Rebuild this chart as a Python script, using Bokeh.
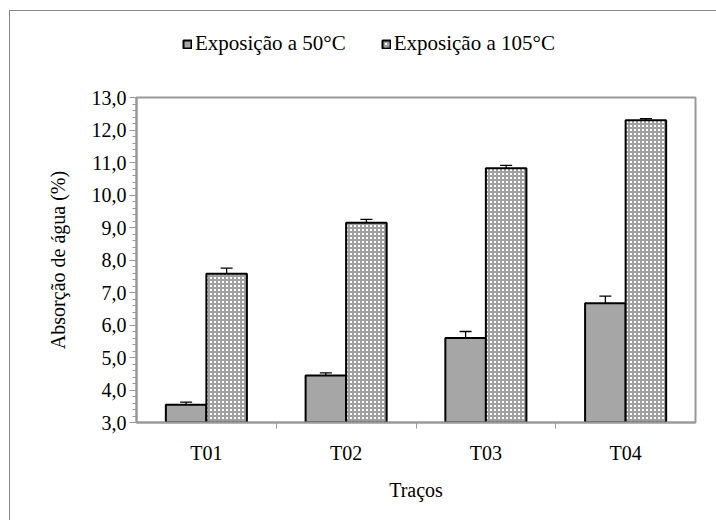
from bokeh.plotting import figure
from bokeh.layouts import column
from bokeh.models import (ColumnDataSource, Whisker, FixedTicker, SingleIntervalTicker,
                          Legend, LegendItem, Range1d)
from bokeh.embed import file_html
from bokeh.resources import INLINE

categories = ["T01", "T02", "T03", "T04"]
series_names = ["Exposição a 50°C", "Exposição a 105°C"]
vals_50 = [3.55, 4.45, 5.60, 6.67]
err_50 = [0.08, 0.08, 0.20, 0.22]
vals_105 = [7.58, 9.15, 10.82, 12.30]
err_105 = [0.17, 0.10, 0.09, 0.05]
y_ticks = [3, 4, 5, 6, 7, 8, 9, 10, 11, 12, 13]

FONT = "'Liberation Serif'"
FS = "20px"
BW = 0.29
centers = [i + 0.5 for i in range(len(categories))]

STYLE_50 = dict(fill_color="#a6a6a6", line_color="black", line_width=2)
STYLE_105 = dict(fill_color="white", line_color="black", line_width=2,
                 hatch_pattern="cross", hatch_color="#a0a0a0", hatch_scale=4, hatch_weight=2)

# ---- legend strip (separate figure above the chart) ----
lf = figure(width=706, height=70, output_backend="svg", toolbar_location=None,
            x_range=Range1d(0, 1), y_range=Range1d(0, 1),
            min_border_left=0, min_border_right=0, min_border_top=0, min_border_bottom=0)
lf.axis.visible = False
lf.grid.visible = False
lf.outline_line_color = None
# proxy renderers with no drawable value: only their legend swatches show
nan = float("nan")
lr1 = lf.vbar(x=[nan], top=[nan], bottom=[nan], width=0.1, **STYLE_50)
lr2 = lf.vbar(x=[nan], top=[nan], bottom=[nan], width=0.1, **STYLE_105)
legend = Legend(items=[LegendItem(label=series_names[0], renderers=[lr1]),
                       LegendItem(label=series_names[1], renderers=[lr2])],
                orientation="horizontal", location=(46, 25))
legend.label_text_font = FONT
legend.label_text_font_size = "21px"
legend.label_text_color = "black"
legend.glyph_width = 10
legend.glyph_height = 10
legend.label_standoff = 3
legend.spacing = 35
legend.border_line_color = None
legend.background_fill_alpha = 0
lf.add_layout(legend, "center")

# ---- main chart ----
p = figure(width=706, height=439, output_backend="svg", toolbar_location=None,
           x_range=Range1d(0, len(categories)), y_range=Range1d(3, 13),
           min_border_left=126, min_border_right=21, min_border_top=16, min_border_bottom=98)

s50 = ColumnDataSource(dict(x=[c - BW / 2 for c in centers], top=vals_50,
                            lo=[v - e for v, e in zip(vals_50, err_50)],
                            hi=[v + e for v, e in zip(vals_50, err_50)]))
s105 = ColumnDataSource(dict(x=[c + BW / 2 for c in centers], top=vals_105,
                             lo=[v - e for v, e in zip(vals_105, err_105)],
                             hi=[v + e for v, e in zip(vals_105, err_105)]))

p.vbar(x="x", top="top", bottom=3, width=BW, source=s50, **STYLE_50)
p.vbar(x="x", top="top", bottom=3, width=BW, source=s105, **STYLE_105)

for src in (s50, s105):
    w = Whisker(base="x", lower="lo", upper="hi", source=src, line_color="black", line_width=1.3)
    w.upper_head.size = 12
    w.lower_head.size = 12
    w.upper_head.line_width = 1.3
    w.lower_head.line_width = 1.3
    p.add_layout(w)

p.xgrid.visible = False
p.ygrid.visible = False
p.outline_line_color = "#999999"
p.outline_line_width = 2

# x axis
p.xaxis.ticker = FixedTicker(ticks=centers, minor_ticks=list(range(1, len(categories))))
p.xaxis.major_label_overrides = {c: lab for c, lab in zip(centers, categories)}
p.xaxis.major_tick_out = 0
p.xaxis.major_tick_in = 0
p.xaxis.minor_tick_out = 6
p.xaxis.minor_tick_in = 0
p.xaxis.minor_tick_line_color = "#999999"
p.xaxis.axis_line_color = "#999999"
p.xaxis.axis_line_width = 2
p.xaxis.axis_label = "Traços"

# y axis
p.yaxis.ticker = SingleIntervalTicker(interval=1, num_minor_ticks=5)
p.yaxis.major_label_overrides = {t: f"{t:.1f}".replace(".", ",") for t in y_ticks}
p.yaxis.major_tick_out = 7
p.yaxis.major_tick_in = 0
p.yaxis.minor_tick_out = 4
p.yaxis.minor_tick_in = 0
p.yaxis.major_tick_line_color = "#999999"
p.yaxis.minor_tick_line_color = "#999999"
p.yaxis.axis_line_color = "#999999"
p.yaxis.axis_line_width = 2
p.yaxis.axis_label = "Absorção de água (%)"

for ax in (p.xaxis, p.yaxis):
    ax.major_label_text_font = FONT
    ax.major_label_text_font_size = FS
    ax.major_label_text_color = "black"
    ax.axis_label_text_font = FONT
    ax.axis_label_text_font_size = FS
    ax.axis_label_text_font_style = "normal"
    ax.axis_label_text_color = "black"
p.xaxis.major_label_standoff = 13
p.xaxis.axis_label_standoff = 12
p.yaxis.major_label_standoff = 3
p.yaxis.axis_label_standoff = 20

layout = column(lf, p, spacing=0)
layout.styles = {"margin-left": "9px", "margin-top": "10px",
                 "border-left": "1px solid #888", "border-top": "1px solid #888"}

open("out.html", "w").write(file_html(layout, INLINE))
